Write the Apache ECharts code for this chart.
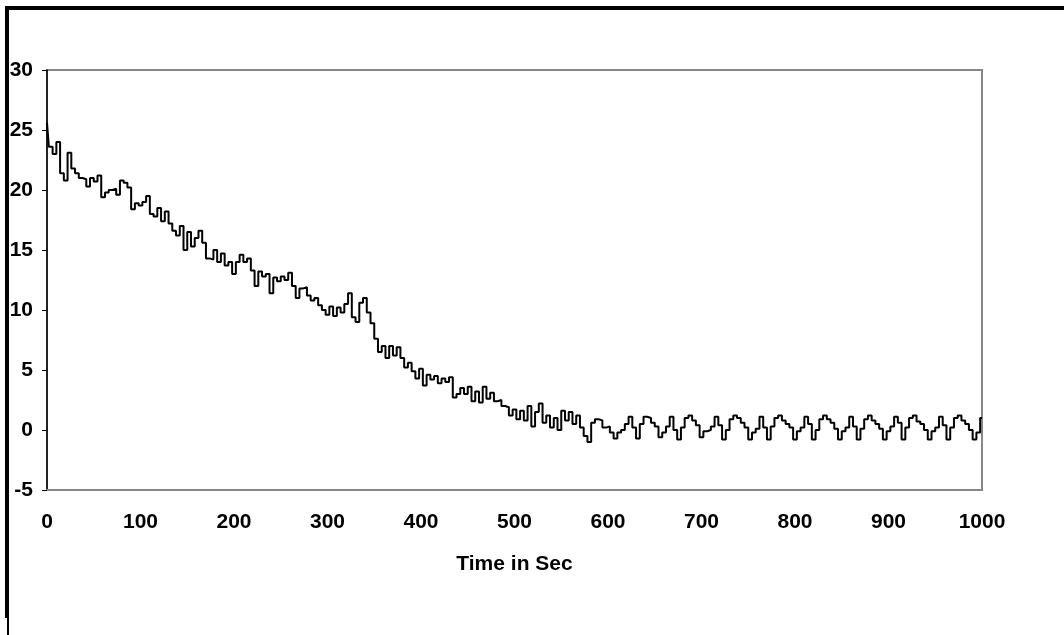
<!DOCTYPE html>
<html>
<head>
<meta charset="utf-8">
<script src="https://cdn.jsdelivr.net/npm/echarts@6/dist/echarts.min.js"></script>
<style>
html,body{margin:0;padding:0;background:#fff;}
#chart{width:1064px;height:635px;}
</style>
</head>
<body>
<div id="chart"></div>
<script>
// Sample spacing in seconds
const STEP = 4;
// Values, one every STEP seconds from t = 0 to t = 1000
const values = [
  25.6, 23.6, 23.0, 24.0, 21.4, 20.8, 23.1, 21.8, 21.4, 21.0,
  20.9, 20.3, 21.0, 20.7, 21.2, 19.4, 19.8, 20.0, 20.1, 19.6,
  20.8, 20.6, 20.2, 18.4, 18.9, 18.7, 19.0, 19.5, 18.0, 17.8,
  18.5, 17.4, 18.2, 17.2, 16.6, 16.2, 17.0, 15.0, 16.5, 15.3,
  16.0, 16.6, 15.6, 14.3, 14.2, 15.0, 14.0, 14.7, 13.7, 14.0,
  13.0, 14.0, 14.6, 14.0, 14.3, 13.3, 12.0, 13.2, 12.8, 13.0,
  11.4, 12.7, 12.4, 12.8, 12.5, 13.1, 12.0, 11.0, 11.8, 11.9,
  11.2, 10.8, 11.0, 10.4, 10.0, 9.6, 10.3, 9.5, 10.2, 9.8,
  10.5, 11.4, 9.4, 9.0, 10.6, 11.0, 9.8, 8.9, 7.6, 6.5,
  7.0, 6.0, 7.0, 6.2, 6.9, 6.0, 5.2, 5.6, 4.9, 4.3,
  5.1, 3.7, 4.6, 4.2, 4.5, 3.9, 4.3, 4.0, 4.4, 2.7,
  3.0, 3.5, 3.0, 3.6, 2.4, 3.2, 2.3, 3.6, 2.6, 3.1,
  2.4, 2.5, 2.0, 1.9, 1.2, 1.7, 0.9, 1.6, 0.8, 2.0,
  0.3, 1.5, 2.2, 0.6, 1.2, 0.2, 1.0, 0.0, 1.6, 0.8,
  1.5, 0.5, 1.2, 0.2, -0.5, -1.0, 0.6, 0.9, 0.8, 0.2,
  0.3, -0.2, -0.7, -0.2, 0.0, 0.5, 1.1, 0.2, -0.7, 0.5,
  1.1, 1.0, 0.6, 0.3, -0.6, -0.2, 0.3, 1.1, 0.0, -0.8,
  0.2, 1.0, 1.2, 0.8, 0.4, -0.6, -0.1, 0.0, 0.3, 1.1,
  0.4, -0.8, 0.0, 0.9, 1.2, 1.0, 0.6, 0.2, -0.8, -0.2,
  0.1, 1.1, 0.2, -0.8, 0.3, 1.0, 1.2, 0.8, 0.5, 0.2,
  -0.8, -0.1, 0.2, 1.1, 0.5, -0.8, 0.0, 0.9, 1.2, 0.9,
  0.6, 0.1, -0.8, -0.1, 0.2, 1.1, 0.3, -0.8, 0.1, 0.9,
  1.2, 0.8, 0.5, 0.1, -0.8, -0.1, 0.3, 1.1, 0.6, -0.8,
  0.2, 1.0, 1.2, 0.7, 0.5, 0.0, -0.8, -0.1, 0.2, 1.1,
  0.4, -0.8, 0.2, 1.0, 1.2, 0.8, 0.5, 0.0, -0.8, -0.2,
  1.0
];
const times = values.map((_, i) => i * STEP);
const xTicks = ['0','100','200','300','400','500','600','700','800','900','1000'];
const yTicks = ['-5','0','5','10','15','20','25','30'];
const xTitle = 'Time in Sec';

const FONT = "'Liberation Sans', Arial, sans-serif";
const chart = echarts.init(document.getElementById('chart'), null, {renderer: 'canvas'});
chart.setOption({
  backgroundColor: '#ffffff',
  animation: false,
  graphic: [
    {type: 'rect', shape: {x: 5, y: 6, width: 1059, height: 4}, style: {fill: '#000'}},
    {type: 'rect', shape: {x: 5, y: 6, width: 4, height: 612}, style: {fill: '#000'}},
    {type: 'rect', shape: {x: 7, y: 618, width: 2, height: 17}, style: {fill: '#000'}}
  ],
  grid: {
    left: 47, top: 70, right: 82, bottom: 145,
    show: true, borderColor: '#888888', borderWidth: 2, backgroundColor: '#fff'
  },
  xAxis: {
    type: 'value', min: 0, max: 1000, interval: 100,
    name: xTitle, nameLocation: 'middle', nameGap: 64,
    nameTextStyle: {fontFamily: FONT, fontWeight: 'bold', fontSize: 21, color: '#000'},
    axisLine: {show: true, onZero: false, lineStyle: {color: '#888888', width: 2}},
    axisTick: {show: false},
    splitLine: {show: false},
    axisLabel: {
      margin: 22, fontFamily: FONT, fontWeight: 'bold', fontSize: 21, color: '#000',
      formatter: (v) => xTicks[Math.round(v / 100)]
    }
  },
  yAxis: {
    type: 'value', min: -5, max: 30, interval: 5,
    axisLine: {show: true, onZero: false, lineStyle: {color: '#000', width: 1.5}},
    axisTick: {show: true, inside: false, length: 5, lineStyle: {color: '#000', width: 1}},
    splitLine: {show: false},
    axisLabel: {
      margin: 14, fontFamily: FONT, fontWeight: 'bold', fontSize: 21, color: '#000',
      formatter: (v) => yTicks[Math.round((v + 5) / 5)]
    }
  },
  series: [{
    type: 'line',
    data: times.map((t, i) => [t, values[i]]),
    step: 'middle',
    showSymbol: false,
    lineStyle: {color: '#000', width: 2},
    clip: true
  }]
});
</script>
</body>
</html>
